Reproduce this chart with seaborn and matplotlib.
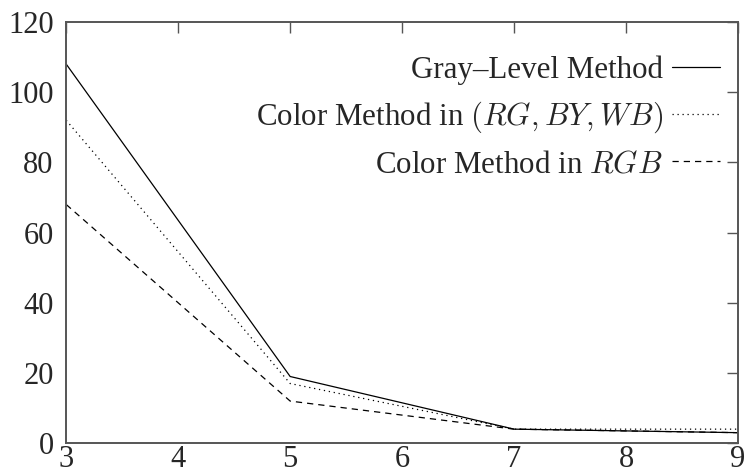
import matplotlib
matplotlib.use("Agg")
import matplotlib.pyplot as plt
import seaborn as sns
import pandas as pd

x_vals = [3, 5, 7, 9]
gray_level = [108, 19, 4, 3]
color_rgbywb = [92, 17, 4, 4]
color_rgb = [68, 12, 4, 3]
labels = ["Gray\u2013Level Method", r"Color Method in $(RG, BY, WB)$", r"Color Method in $RGB$"]

sns.set_theme(style="white")
plt.rcParams['font.family'] = ['Liberation Serif', 'DejaVu Serif']
plt.rcParams['mathtext.fontset'] = 'cm'

df = pd.DataFrame({
    "x": x_vals * 3,
    "y": gray_level + color_rgbywb + color_rgb,
    "method": [labels[0]] * 4 + [labels[1]] * 4 + [labels[2]] * 4,
})

fig = plt.figure(figsize=(7.44, 4.68), dpi=100)
ax = fig.add_axes([0.089, 0.053, 0.903, 0.9])
styles = {labels[0]: "-", labels[1]: (0, (1, 3)), labels[2]: (0, (5, 4))}
for m in labels:
    sub = df[df.method == m]
    sns.lineplot(data=sub, x="x", y="y", ax=ax, color="black", lw=0.9,
                 linestyle=styles[m], label=m)

ax.set_xlim(3, 9)
ax.set_ylim(0, 120)
ax.set_xticks(range(3, 10))
ax.set_yticks(range(0, 121, 20))
ax.set_xlabel("")
ax.set_ylabel("")
ax.tick_params(direction="in", length=8, width=1, top=True, right=True,
               labelsize=22, color="#555555")
ax.tick_params(axis="x", pad=1)
ax.tick_params(axis="y", pad=9)
for s in ax.spines.values():
    s.set_color("#555555")
    s.set_linewidth(1.4)
leg = ax.legend(loc="upper right", bbox_to_anchor=(0.992, 0.95), frameon=False,
                markerfirst=False, fontsize=22.3,
                handlelength=1.55, labelspacing=0.48, borderaxespad=0.0,
                handletextpad=0.3)
fig.savefig("out.png", dpi=100)
